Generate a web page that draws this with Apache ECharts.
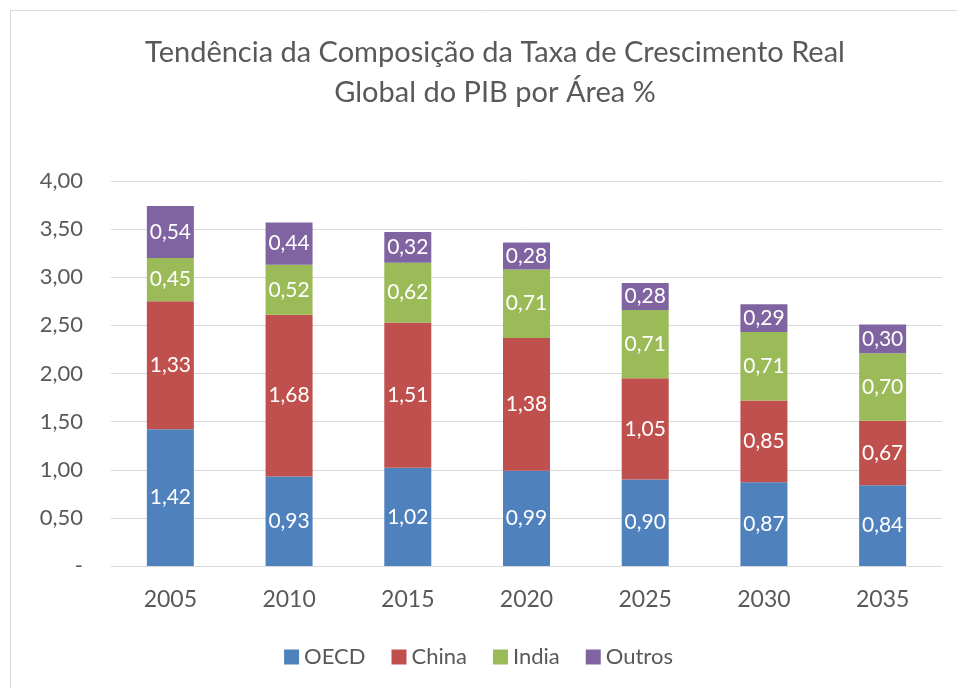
<!DOCTYPE html>
<html>
<head>
<meta charset="utf-8">
<script src="https://cdn.jsdelivr.net/npm/echarts@6/dist/echarts.min.js"></script>
<style>
  html, body { margin: 0; padding: 0; background: #fff; }
  #main { width: 957px; height: 688px; }
</style>
</head>
<body>
<div id="main"></div>
<script>
var years = ['2005', '2010', '2015', '2020', '2025', '2030', '2035'];
var oecd = [1.42, 0.93, 1.02, 0.99, 0.90, 0.87, 0.84];
var china = [1.33, 1.68, 1.51, 1.38, 1.05, 0.85, 0.67];
var india = [0.45, 0.52, 0.62, 0.71, 0.71, 0.71, 0.70];
var outros = [0.54, 0.44, 0.32, 0.28, 0.28, 0.29, 0.30];

var fmt = function (v) { return v.toFixed(2).replace('.', ','); };
var font = 'Lato, "Open Sans", sans-serif';

function makeSeries(name, data, color) {
    return {
        name: name,
        type: 'bar',
        stack: 'total',
        barWidth: 47,
        data: data,
        itemStyle: { color: color },
        label: {
            show: true,
            color: '#fff',
            fontSize: 21,
            fontFamily: font,
            formatter: function (p) { return fmt(p.value); }
        }
    };
}

var myChart = echarts.init(document.getElementById('main'));
myChart.setOption({
    animation: false,
    textStyle: { fontFamily: font },
    title: {
        text: 'Tendência da Composição da Taxa de Crescimento Real\nGlobal do PIB por Área %',
        left: 490,
        textAlign: 'center',
        top: 28,
        textStyle: { fontSize: 29, fontWeight: 'normal', color: '#595959', lineHeight: 40, fontFamily: font }
    },
    graphic: [{
        type: 'rect',
        shape: { x: 10.5, y: 10.5, width: 980, height: 720 },
        style: { fill: 'none', stroke: '#d9d9d9', lineWidth: 1 },
        silent: true
    }],
    legend: {
        top: 641,
        left: 'center',
        itemWidth: 15,
        itemHeight: 15,
        itemGap: 26,
        icon: 'rect',
        textStyle: { fontSize: 22, color: '#595959', fontFamily: font }
    },
    grid: { left: 111, right: 15, top: 181, bottom: 122 },
    xAxis: {
        type: 'category',
        data: years,
        axisTick: { show: false },
        axisLine: { lineStyle: { color: '#d9d9d9', width: 1 } },
        axisLabel: { fontSize: 23, color: '#595959', margin: 22, fontFamily: font }
    },
    yAxis: {
        type: 'value',
        min: 0,
        max: 4,
        interval: 0.5,
        axisLine: { show: false },
        axisTick: { show: false },
        splitLine: { lineStyle: { color: '#d9d9d9', width: 1 } },
        axisLabel: {
            fontSize: 22,
            color: '#595959',
            margin: 28,
            fontFamily: font,
            formatter: function (v) { return v === 0 ? '-' : fmt(v); }
        }
    },
    series: [
        makeSeries('OECD', oecd, '#4f81bd'),
        makeSeries('China', china, '#c0504d'),
        makeSeries('India', india, '#9bbb59'),
        makeSeries('Outros', outros, '#8064a2')
    ]
});
</script>
</body>
</html>
